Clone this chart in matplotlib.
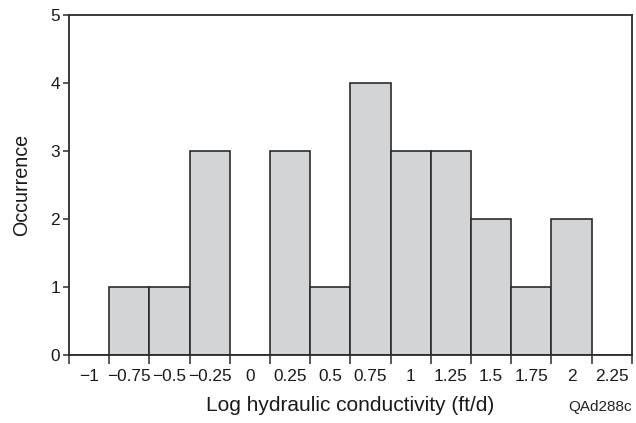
import numpy as np
import matplotlib.pyplot as plt

plt.rcParams['font.family'] = ['Liberation Sans', 'DejaVu Sans']

# bin centres (log hydraulic conductivity) and counts
bins = [-1, -0.75, -0.5, -0.25, 0, 0.25, 0.5, 0.75, 1, 1.25, 1.5, 1.75, 2, 2.25]
counts = [0, 1, 1, 3, 0, 3, 1, 4, 3, 3, 2, 1, 2, 0]
bin_labels = ['\u22121', '\u22120.75', '\u22120.5', '\u22120.25', '0', '0.25', '0.5',
              '0.75', '1', '1.25', '1.5', '1.75', '2', '2.25']
width = 0.25

fig = plt.figure(figsize=(6.36, 4.23), dpi=100)
ax = fig.add_axes([0.1085, 0.1608, 0.885, 0.8037])

bins = np.array(bins)
ax.bar(bins, counts, width=width, color='#d3d4d6', edgecolor='#2b2b2b', linewidth=1.2)

ax.set_xlim(bins[0] - width / 2, bins[-1] + width / 2)
ax.set_ylim(0, 5)

# edge ticks without labels, labels sit at bin centres
edges = np.append(bins - width / 2, bins[-1] + width / 2)
ax.set_xticks(edges)
ax.set_xticklabels([])
ax.set_xticks(bins, minor=True)
ax.set_xticklabels(bin_labels, minor=True)
ax.tick_params(axis='x', which='major', direction='out', length=6.5, width=1.1, color='#2b2b2b')
ax.tick_params(axis='x', which='minor', length=0, labelsize=12.4, pad=10, labelcolor='#1a1a1a')
ax.set_yticks(range(6))
ax.tick_params(axis='y', direction='out', length=4.5, width=1.1, labelsize=12.4, pad=2,
               color='#2b2b2b', labelcolor='#1a1a1a')

for s in ax.spines.values():
    s.set_linewidth(1.3)
    s.set_color('#2b2b2b')

ax.set_xlabel('Log hydraulic conductivity (ft/d)', fontsize=15, labelpad=9, color='#1a1a1a')
ax.set_ylabel('Occurrence', fontsize=14.2, labelpad=14, color='#1a1a1a')
fig.text(600 / 636, 1 - 407 / 423, 'QAd288c', fontsize=11, ha='center', va='center', color='#222222')

plt.savefig('out.png', dpi=100)
